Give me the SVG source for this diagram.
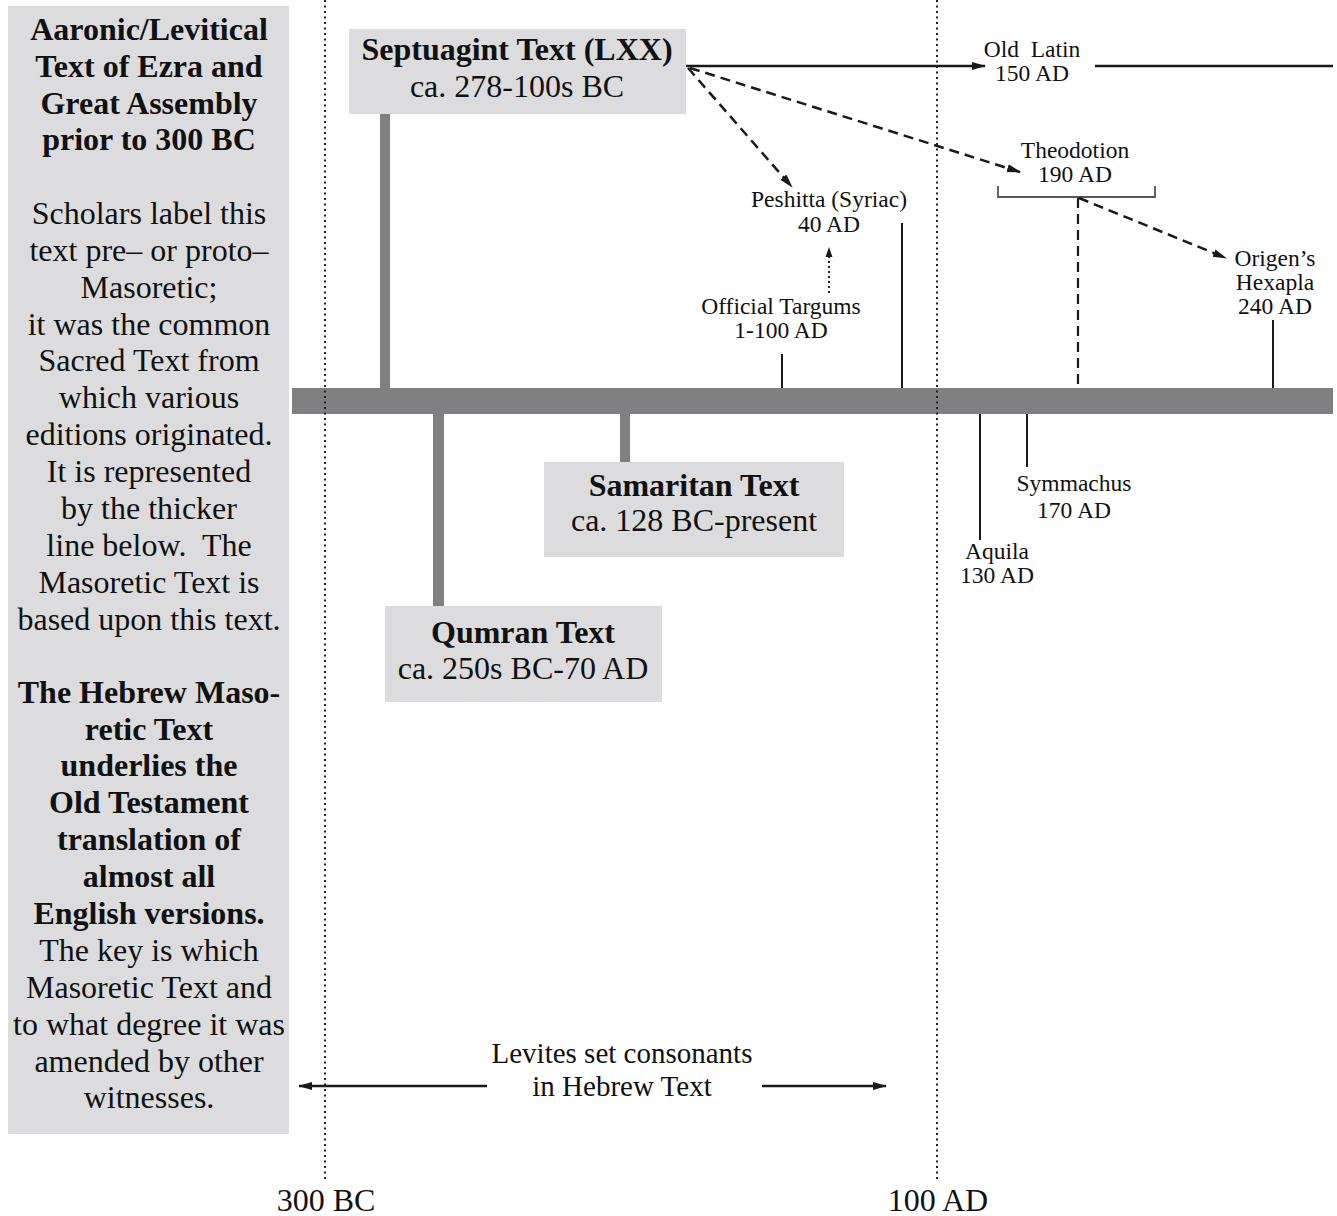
<svg xmlns="http://www.w3.org/2000/svg" width="1337" height="1216" viewBox="0 0 1337 1216">
<style>
text{font-family:"Liberation Serif","Times New Roman",serif;fill:#111;text-anchor:middle}
.big{font-size:32px}
.b{font-weight:bold}
.sm{font-size:23.5px}
.lv{font-size:29px}
.box{fill:#dcdcde}
.bar{fill:#808083}
.thin{stroke:#1a1a1a;stroke-width:2;fill:none}
.arr{stroke:#1a1a1a;stroke-width:2.5;fill:none}
.dash{stroke:#1a1a1a;stroke-width:2.5;fill:none;stroke-dasharray:10 6}
.dot{stroke:#222;stroke-width:2;fill:none;stroke-dasharray:2 3.5}
</style>
<defs>
<marker id="ah" markerUnits="userSpaceOnUse" markerWidth="14" markerHeight="10" refX="13" refY="5" orient="auto">
<path d="M0,1 L14,5 L0,9 z" fill="#1a1a1a"/>
</marker>
<marker id="ahs" markerUnits="userSpaceOnUse" markerWidth="10" markerHeight="8" refX="9" refY="4" orient="auto">
<path d="M0,0.5 L10,4 L0,7.5 z" fill="#1a1a1a"/>
</marker>
</defs>

<g id="left-panel">
<rect class="box" x="8" y="6" width="281" height="1128"/>
<text class="big b" x="149" y="40">Aaronic/Levitical</text>
<text class="big b" x="149" y="77">Text of Ezra and</text>
<text class="big b" x="149" y="114">Great Assembly</text>
<text class="big b" x="149" y="150">prior to 300 BC</text>
<text class="big" x="149" y="224">Scholars label this</text>
<text class="big" x="149" y="261">text pre– or proto–</text>
<text class="big" x="149" y="298">Masoretic;</text>
<text class="big" x="149" y="335">it was the common</text>
<text class="big" x="149" y="371">Sacred Text from</text>
<text class="big" x="149" y="408">which various</text>
<text class="big" x="149" y="445">editions originated.</text>
<text class="big" x="149" y="482">It is represented</text>
<text class="big" x="149" y="519">by the thicker</text>
<text class="big" x="149" y="556" xml:space="preserve">line below.  The</text>
<text class="big" x="149" y="593">Masoretic Text is</text>
<text class="big" x="149" y="630">based upon this text.</text>
<text class="big b" x="149" y="703">The Hebrew Maso-</text>
<text class="big b" x="149" y="740">retic Text</text>
<text class="big b" x="149" y="776">underlies the</text>
<text class="big b" x="149" y="813">Old Testament</text>
<text class="big b" x="149" y="850">translation of</text>
<text class="big b" x="149" y="887">almost all</text>
<text class="big b" x="149" y="924">English versions.</text>
<text class="big" x="149" y="961">The key is which</text>
<text class="big" x="149" y="998">Masoretic Text and</text>
<text class="big" x="149" y="1035">to what degree it was</text>
<text class="big" x="149" y="1072">amended by other</text>
<text class="big" x="149" y="1108">witnesses.</text>
</g>

<g id="main-line">
<rect class="bar" x="292" y="388" width="1041" height="26"/>
</g>

<g id="septuagint">
<rect class="bar" x="380" y="112" width="10" height="277"/>
<rect class="box" x="349" y="29" width="337" height="85"/>
<text class="big b" x="517" y="60">Septuagint Text (LXX)</text>
<text class="big" x="517" y="97">ca. 278-100s BC</text>
</g>

<g id="qumran">
<rect class="bar" x="433" y="413" width="11" height="194"/>
<rect class="box" x="385" y="606" width="277" height="96"/>
<text class="big b" x="523" y="643">Qumran Text</text>
<text class="big" x="523" y="679">ca. 250s BC-70 AD</text>
</g>

<g id="samaritan">
<rect class="bar" x="620" y="413" width="10" height="50"/>
<rect class="box" x="544" y="462" width="300" height="95"/>
<text class="big b" x="694" y="496">Samaritan Text</text>
<text class="big" x="694" y="531">ca. 128 BC-present</text>
</g>

<g id="old-latin">
<text class="sm" x="1032" y="57" xml:space="preserve">Old  Latin</text>
<text class="sm" x="1032" y="81">150 AD</text>
</g>

<g id="peshitta">
<text class="sm" x="829" y="207">Peshitta (Syriac)</text>
<text class="sm" x="829" y="232">40 AD</text>
</g>

<g id="targums">
<text class="sm" x="781" y="314">Official Targums</text>
<text class="sm" x="781" y="338">1-100 AD</text>
</g>

<g id="theodotion">
<text class="sm" x="1075" y="158">Theodotion</text>
<text class="sm" x="1075" y="182">190 AD</text>
<path d="M998,186 V197 H1155 V186" stroke="#555" stroke-width="1.8" fill="none"/>
</g>

<g id="origen">
<text class="sm" x="1275" y="266">Origen’s</text>
<text class="sm" x="1275" y="290">Hexapla</text>
<text class="sm" x="1275" y="314">240 AD</text>
</g>

<g id="symmachus">
<text class="sm" x="1074" y="491">Symmachus</text>
<text class="sm" x="1074" y="518">170 AD</text>
</g>

<g id="aquila">
<text class="sm" x="997" y="559">Aquila</text>
<text class="sm" x="997" y="583">130 AD</text>
</g>

<g id="levites">
<text class="lv" x="622" y="1063">Levites set consonants</text>
<text class="lv" x="622" y="1096">in Hebrew Text</text>
</g>

<g id="axis-labels">
<text class="big" x="326" y="1211">300 BC</text>
<text class="big" x="938" y="1211">100 AD</text>
</g>

<g id="connectors">
<line class="arr" x1="686" y1="66" x2="985" y2="66" marker-end="url(#ah)"/>
<line class="arr" x1="1095" y1="66" x2="1333" y2="66"/>
<line class="dash" x1="688" y1="68" x2="792" y2="187" marker-end="url(#ah)"/>
<line class="dash" x1="690" y1="68" x2="1020" y2="172" marker-end="url(#ah)"/>
<line class="dash" x1="1079" y1="198" x2="1226" y2="258" marker-end="url(#ah)"/>
<line class="dash" x1="1078" y1="198" x2="1078" y2="388" style="stroke-width:2.2"/>
<line class="dot" x1="829" y1="293" x2="829" y2="248" style="stroke-dasharray:2 3" marker-end="url(#ahs)"/>
<line class="thin" x1="782" y1="354" x2="782" y2="388"/>
<line class="thin" x1="902" y1="223" x2="902" y2="388"/>
<line class="thin" x1="1273" y1="320" x2="1273" y2="388"/>
<line class="thin" x1="980" y1="414" x2="980" y2="540"/>
<line class="thin" x1="1027" y1="414" x2="1027" y2="467"/>
<line class="arr" x1="487" y1="1086" x2="299" y2="1086" marker-end="url(#ah)"/>
<line class="arr" x1="762" y1="1086" x2="886" y2="1086" marker-end="url(#ah)"/>
<line class="dot" x1="325" y1="0" x2="325" y2="1182"/>
<line class="dot" x1="937" y1="0" x2="937" y2="1182"/>
</g>
</svg>
